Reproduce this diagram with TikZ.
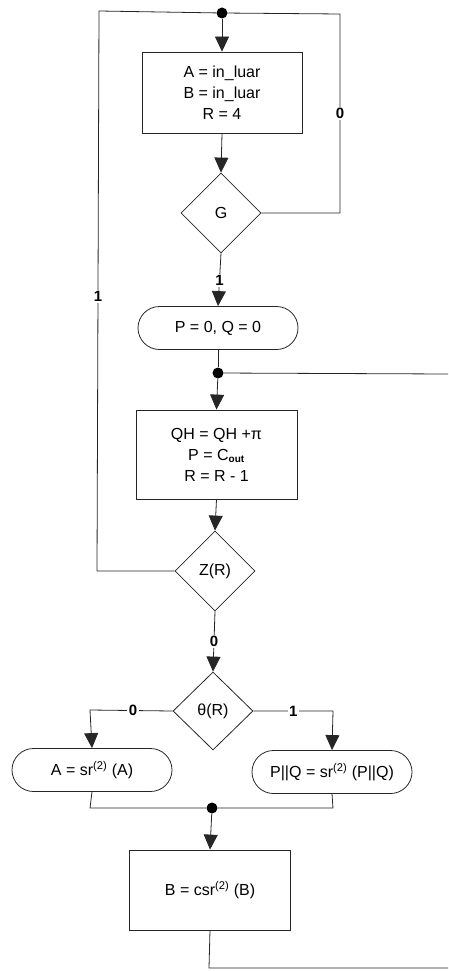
\documentclass[tikz,border=0pt]{standalone}
\usepackage{fontspec}
\setmainfont{Liberation Sans}
\usetikzlibrary{arrows.meta,shapes.geometric,shapes.misc}
\begin{document}
\begin{tikzpicture}[x=1pt,y=-1pt,
  font=\fontsize{16}{21}\selectfont,
  ln/.style={line width=0.8pt,draw=black!85},
  arr/.style={ln,-{Triangle[length=15pt,width=14pt]}},
  boxn/.style={ln,rectangle,inner sep=0pt,align=center},
  rbox/.style={ln,rounded rectangle,inner sep=0pt,minimum width=160pt,minimum height=43pt},
  dec/.style={ln,diamond,inner sep=0pt,minimum width=80pt,minimum height=80pt},
  dotn/.style={circle,fill=black,inner sep=0pt,minimum size=11pt},
  lbl/.style={fill=white,inner sep=1.5pt,font=\fontsize{15}{18}\selectfont\bfseries}
]
\useasboundingbox (0,0) rectangle (448,971);

\node[dotn] (d1) at (222,13) {};
\node[boxn,minimum width=160pt,minimum height=81pt] (b1) at (222,92.5) {A = in\_luar\\B = in\_luar\\R = 4};
\node[dec] (g) at (221,213) {G};
\node[rbox] (p0) at (218,328) {P = 0, Q = 0};
\node[dotn] (d2) at (218,373) {};
\coordinate (r2) at (448,374);
\node[boxn,minimum width=161pt,minimum height=89pt] (b2) at (216.5,454.5) {QH = QH +π\\P = C\textsubscript{\fontsize{10}{12}\selectfont\bfseries out}\\R = R - 1};
\node[dec] (z) at (215,571) {Z(R)};
\node[dec,minimum height=78pt] (t) at (213,711) {θ(R)};
\node[rbox] (a) at (92,770) {A = sr\textsuperscript{(2)} (A)};
\node[rbox] (pq) at (332,772) {P||Q = sr\textsuperscript{(2)} (P||Q)};
\node[dotn] (d3) at (212,808) {};
\node[boxn,minimum width=161pt,minimum height=80pt] (b3) at (210,890) {B = csr\textsuperscript{(2)} (B)};
\coordinate (r3) at (448,968);

% top section
\draw[arr] (d1) -- (b1.north);
\draw[arr] (b1.south) -- (g.north);
\draw[ln] (g.east) -- (340,213) -- node[lbl,pos=0.5] {0} (340,14) -- (d1);
\draw[ln] (z.west) -- (97,571) -- node[lbl,pos=0.49] {1} (99,11) -- (d1);
\draw[arr] (g.south) -- node[lbl,pos=0.52] {1} (p0.north);
\draw[ln] (p0.south) -- (d2);
\draw[arr] (d2) -- (b2.north);
\draw[ln] (d2) -- (r2);
\draw[arr] (b2.south) -- (z.north);
\draw[arr] (z.south) -- node[lbl,pos=0.5] {0} (t.north);
\draw[arr] (t.west) -- node[lbl,pos=0.48] {0} (90,710) -- (a.north);
\draw[arr] (t.east) -- node[lbl,pos=0.5] {1} (333,711) -- (pq.north);
\draw[ln] (a.south) -- (90,808) -- (d3);
\draw[ln] (pq.south) -- (333,808) -- (d3);
\draw[arr] (d3) -- (b3.north);
\draw[ln] (b3.south) -- (209,968) -- (r3);
\end{tikzpicture}
\end{document}
